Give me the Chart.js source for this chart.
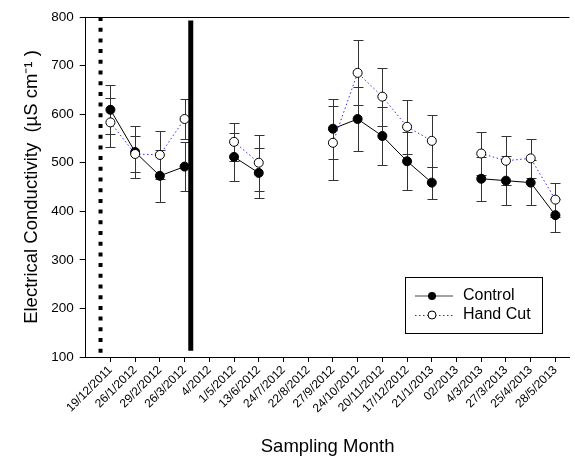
<!DOCTYPE html>
<html>
<head>
<meta charset="utf-8">
<script src="https://cdn.jsdelivr.net/npm/chart.js@4.4.0/dist/chart.umd.min.js"></script>
<style>
  html, body { margin: 0; padding: 0; background: #fff; }
</style>
</head>
<body>
<canvas id="ecChart" width="575" height="460"></canvas>
<script>
// sampling months (x axis categories)
var months = ["19/12/2011", "26/1/2012", "29/2/2012", "26/3/2012", "4/2012", "1/5/2012",
  "13/6/2012", "24/7/2012", "22/8/2012", "27/9/2012", "24/10/2012", "20/11/2012",
  "17/12/2012", "21/1/2013", "02/2013", "4/3/2013", "27/3/2013", "25/4/2013", "28/5/2013"];

var control    = [609, 522, 473, 492, null, 512, 479, null, null, 570, 590, 555, 503, 459, null, 467, 463, 459, 392];
var controlErr = [50, 54, 53, 51, null, 50, 52, null, null, 62, 66, 60, 60, 33, null, 45, 50, 47, 34];
var handCut    = [583, 518, 516, 590, null, 543, 500, null, null, 541, 685, 636, 574, 545, null, 519, 504, 509, 424];
var handCutErr = [50, 38, 50, 42, null, 39, 58, null, null, 76, 67, 60, 56, 54, null, 45, 50, 40, 35];

var yTicks = [100, 200, 300, 400, 500, 600, 700, 800];

// the two vertical marker lines
var dottedLineX = 0.6;
var dottedLineY = [800, 100];
var solidLineX = 4.25;
var solidLineY = [793, 113];

var FONT = "'Liberation Sans', Arial, sans-serif";

function toPoints(values) {
  return values.map(function (v, i) { return { x: i + 1, y: v }; });
}
function vLine(x, ys) {
  return ys.map(function (y) { return { x: x, y: y }; });
}

var errorBars = {
  id: "errorBars",
  beforeDatasetsDraw: function (chart) {
    var ctx = chart.ctx, xs = chart.scales.x, ys = chart.scales.y;
    ctx.save();
    ctx.strokeStyle = "#333";
    ctx.lineWidth = 1;
    [[control, controlErr], [handCut, handCutErr]].forEach(function (pair) {
      pair[0].forEach(function (v, i) {
        if (v == null) return;
        var x = Math.round(xs.getPixelForValue(i + 1)) + 0.5;
        var top = Math.round(ys.getPixelForValue(v + pair[1][i])) + 0.5;
        var bot = Math.round(ys.getPixelForValue(v - pair[1][i])) + 0.5;
        ctx.beginPath();
        ctx.moveTo(x, top); ctx.lineTo(x, bot);
        ctx.moveTo(x - 5, top); ctx.lineTo(x + 5, top);
        ctx.moveTo(x - 5, bot); ctx.lineTo(x + 5, bot);
        ctx.stroke();
      });
    });
    ctx.restore();
  }
};

var frameAndLegend = {
  id: "frameAndLegend",
  afterDraw: function (chart) {
    var ctx = chart.ctx, a = chart.chartArea;
    ctx.save();
    // top frame line
    ctx.strokeStyle = "#000";
    ctx.lineWidth = 1;
    ctx.beginPath();
    ctx.moveTo(a.left, Math.round(a.top) + 0.5);
    ctx.lineTo(a.right, Math.round(a.top) + 0.5);
    ctx.stroke();

    // legend box
    ctx.fillStyle = "#fff";
    ctx.fillRect(405, 277, 137, 56);
    ctx.strokeRect(405.5, 277.5, 137, 56);

    ctx.font = "16px " + FONT;
    ctx.textBaseline = "middle";

    // Control entry
    ctx.strokeStyle = "#444";
    ctx.lineWidth = 1.2;
    ctx.beginPath(); ctx.moveTo(415, 296); ctx.lineTo(453, 296); ctx.stroke();
    ctx.fillStyle = "#000";
    ctx.beginPath(); ctx.arc(432, 296, 4, 0, Math.PI * 2); ctx.fill();
    ctx.fillText("Control", 463, 296);

    // Hand Cut entry
    ctx.strokeStyle = "#2a2aff";
    ctx.lineWidth = 1;
    ctx.setLineDash([1.5, 2.5]);
    ctx.beginPath(); ctx.moveTo(415, 315.5); ctx.lineTo(453, 315.5); ctx.stroke();
    ctx.setLineDash([]);
    ctx.fillStyle = "#fff";
    ctx.strokeStyle = "#000";
    ctx.beginPath(); ctx.arc(432, 315, 4, 0, Math.PI * 2); ctx.fill(); ctx.stroke();
    ctx.fillStyle = "#000";
    ctx.fillText("Hand Cut", 463, 315);
    ctx.restore();
  }
};

var ctx = document.getElementById("ecChart").getContext("2d");
var chart = new Chart(ctx, {
  type: "line",
  data: {
    datasets: [
      {
        label: "Control",
        data: toPoints(control),
        borderColor: "#000",
        borderWidth: 1,
        pointRadius: 4.5,
        pointBackgroundColor: "#000",
        pointBorderColor: "#000",
        pointBorderWidth: 1,
        spanGaps: false,
        order: 2
      },
      {
        label: "Hand Cut",
        data: toPoints(handCut),
        borderColor: "#2a2aff",
        borderWidth: 1,
        borderDash: [1.5, 2.5],
        pointRadius: 4.5,
        pointBackgroundColor: "#fff",
        pointBorderColor: "#000",
        pointBorderWidth: 1,
        spanGaps: false,
        order: 1
      },
      {
        label: "dotted",
        data: vLine(dottedLineX, dottedLineY),
        borderColor: "#000",
        borderWidth: 4,
        borderDash: [4, 6.7],
        borderCapStyle: "butt",
        pointRadius: 0,
        clip: false,
        order: 3
      },
      {
        label: "solid",
        data: vLine(solidLineX, solidLineY),
        borderColor: "#000",
        borderWidth: 5,
        borderCapStyle: "butt",
        pointRadius: 0,
        order: 3
      }
    ]
  },
  options: {
    responsive: false,
    animation: false,
    devicePixelRatio: 1,
    layout: { padding: { top: 17, right: 0, left: 0, bottom: 0 } },
    plugins: {
      legend: { display: false },
      tooltip: { enabled: false }
    },
    scales: {
      x: {
        type: "linear",
        min: 0,
        max: 19.57,
        afterBuildTicks: function (scale) {
          scale.ticks = months.map(function (m, i) { return { value: i + 1 }; });
        },
        afterFit: function (scale) {
          scale.height = 103;
          scale.paddingLeft = 0;
          scale.paddingRight = 0;
        },
        ticks: {
          autoSkip: false,
          minRotation: 45,
          maxRotation: 45,
          padding: 1,
          color: "#000",
          font: { family: FONT, size: 12 },
          callback: function (value) {
            return months[Math.round(value) - 1] || "";
          }
        },
        grid: { drawOnChartArea: false, drawTicks: true, tickLength: 5, color: "#000" },
        border: { display: true, color: "#000", width: 1 },
        title: {
          display: true,
          text: "Sampling Month",
          color: "#000",
          font: { family: FONT, size: 18.5 },
          padding: { top: 0, bottom: 2 }
        }
      },
      y: {
        min: 100,
        max: 800,
        afterBuildTicks: function (scale) {
          scale.ticks = yTicks.map(function (v) { return { value: v }; });
        },
        afterFit: function (scale) {
          scale.width = 85.7;
          scale.paddingTop = 0;
          scale.paddingBottom = 0;
        },
        ticks: {
          padding: 6,
          color: "#000",
          font: { family: FONT, size: 13.5 }
        },
        grid: { drawOnChartArea: false, drawTicks: true, tickLength: 6, color: "#000" },
        border: { display: true, color: "#000", width: 1 },
        title: {
          display: true,
          text: "Electrical Conductivity  (µS cm⁻¹ )",
          color: "#000",
          font: { family: FONT, size: 18.5 },
          padding: { top: 21, bottom: 0 }
        }
      }
    }
  },
  plugins: [errorBars, frameAndLegend]
});
</script>
</body>
</html>
